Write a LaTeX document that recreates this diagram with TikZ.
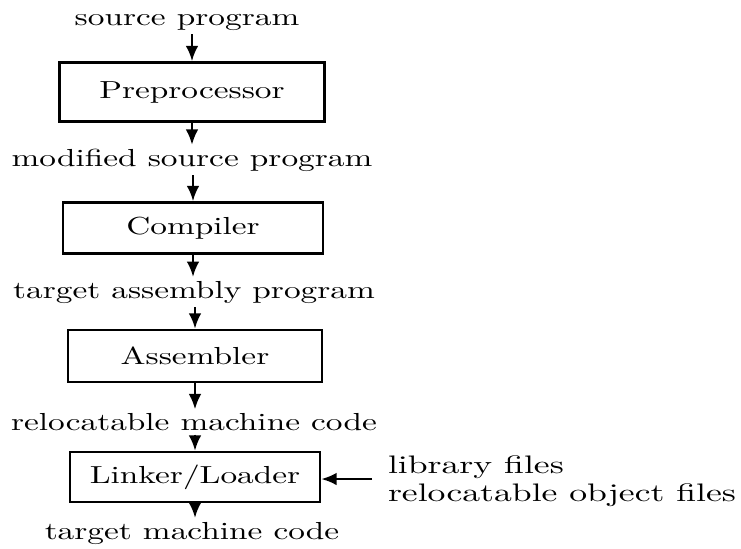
\documentclass[tikz,border=0pt]{standalone}
\usepackage{graphicx}
\usetikzlibrary{arrows.meta}
% labels are set slightly condensed in height
\newcommand{\lowtext}[1]{\scalebox{1}[0.74]{#1}}
\newcommand{\widetext}[1]{\scalebox{1.07}[0.76]{#1}}
\begin{document}
\begin{tikzpicture}[x=0.3pt,y=-0.3pt,
  lbl/.style={inner sep=1pt,font=\fontsize{10}{12}\selectfont},
  stage/.style={draw,line width=0.8pt,inner sep=0pt,
    font=\fontsize{10}{12}\selectfont},
  flow/.style={line width=0.7pt,-{Latex[length=4.6pt,width=3.8pt]}}]
  \useasboundingbox[fill=white] (0,0) rectangle (741,548);

  % main chain of stages
  \node[lbl] (src) at (187,22) {\lowtext{source program}};
  \node[stage,minimum width=79.5pt,minimum height=17.7pt] (pre) at (192,92) {\lowtext{Preprocessor}};
  \node[lbl] (mod) at (192,160) {\lowtext{modified source program}};
  \node[stage,minimum width=78pt,minimum height=15.3pt] (comp) at (193,228) {\lowtext{Compiler}};
  \node[lbl] (tap) at (194,292) {\lowtext{target assembly program}};
  \node[stage,minimum width=76.2pt,minimum height=15.6pt] (asm) at (195,356) {\lowtext{Assembler}};
  \node[lbl] (rmc) at (194,422) {\lowtext{relocatable machine code}};
  \node[stage,minimum width=75pt,minimum height=15pt] (link) at (195,477) {\lowtext{Linker/Loader}};
  \node[lbl] (tmc) at (192,533) {\lowtext{target machine code}};

  % extra inputs of the linker
  \node[lbl,anchor=west] (lib1) at (384,467) {\widetext{library files}};
  \node[lbl,anchor=west] (lib2) at (384,495) {\widetext{relocatable object files}};
  \coordinate (libin) at (372,479);

  \draw[flow] (src.south -| pre.north) -- (pre.north);
  \draw[flow] (pre.south) -- (pre.south |- mod.north);
  \draw[flow] (mod.south -| comp.north) -- (comp.north);
  \draw[flow] (comp.south) -- (comp.south |- tap.north);
  \draw[flow] (tap.south -| asm.north) -- (asm.north);
  \draw[flow] (asm.south) -- (asm.south |- rmc.north);
  \draw[flow] (rmc.south -| link.north) -- (link.north);
  \draw[flow] (link.south) -- (link.south |- tmc.north);
  \draw[flow] (libin) -- (libin -| link.east);
\end{tikzpicture}
\end{document}
